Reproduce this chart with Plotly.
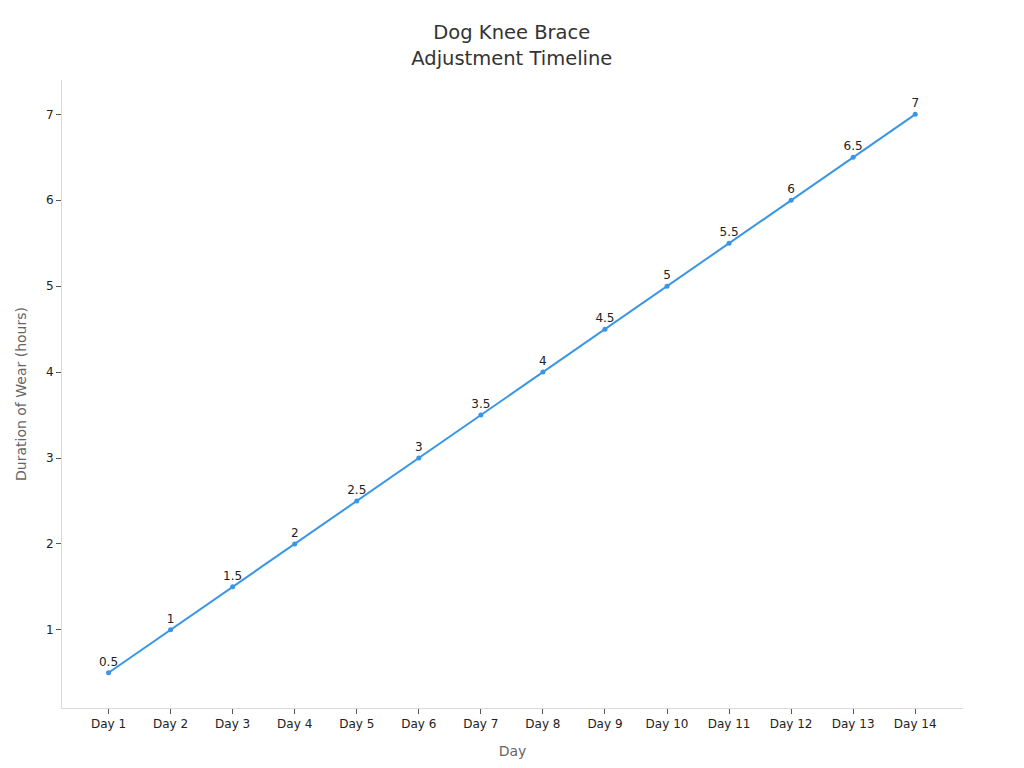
import plotly.graph_objects as go

# datos del gráfico
dias = ['Day 1', 'Day 2', 'Day 3', 'Day 4', 'Day 5', 'Day 6', 'Day 7',
        'Day 8', 'Day 9', 'Day 10', 'Day 11', 'Day 12', 'Day 13', 'Day 14']
horas = [0.5, 1, 1.5, 2, 2.5, 3, 3.5, 4, 4.5, 5, 5.5, 6, 6.5, 7]
etiquetas = ['0.5', '1', '1.5', '2', '2.5', '3', '3.5', '4', '4.5', '5', '5.5', '6', '6.5', '7']

fig = go.Figure(go.Scatter(
    x=dias, y=horas,
    mode='lines+markers+text',
    text=etiquetas,
    textposition='top center',
    textfont=dict(size=12, color='#222222'),
    line=dict(color='#3996e6', width=2),
    marker=dict(color='#3996e6', size=5),
))

# la página añade 8px de margen, se compensa en los márgenes
fig.update_layout(
    width=1024, height=768,
    font=dict(family='DejaVu Sans', color='#333333'),
    title=dict(text='Dog Knee Brace<br>Adjustment Timeline', x=0.492, y=0.959,
               xanchor='center', yanchor='middle',
               font=dict(size=19.5, color='#333333')),
    plot_bgcolor='white', paper_bgcolor='white',
    margin=dict(l=50, r=69, t=72, b=68),
    showlegend=False,
)
fig.update_xaxes(
    title=dict(text='Day', font=dict(size=14, color='#666666'), standoff=15),
    range=[-0.75, 13.77], showline=True, linecolor='#d9d9d9', linewidth=1,
    ticks='outside', tickcolor='#555555', ticklen=5, showgrid=False,
    tickfont=dict(size=12, color='#222222'),
)
fig.update_yaxes(
    title=dict(text='Duration of Wear (hours)', font=dict(size=14, color='#666666'), standoff=16),
    range=[0.09, 7.4], showline=True, linecolor='#d9d9d9', linewidth=1,
    ticks='outside', tickcolor='#555555', ticklen=5, showgrid=False, zeroline=False,
    tickvals=[1, 2, 3, 4, 5, 6, 7],
    tickfont=dict(size=12, color='#222222'),
)

fig.write_html('out.html')
